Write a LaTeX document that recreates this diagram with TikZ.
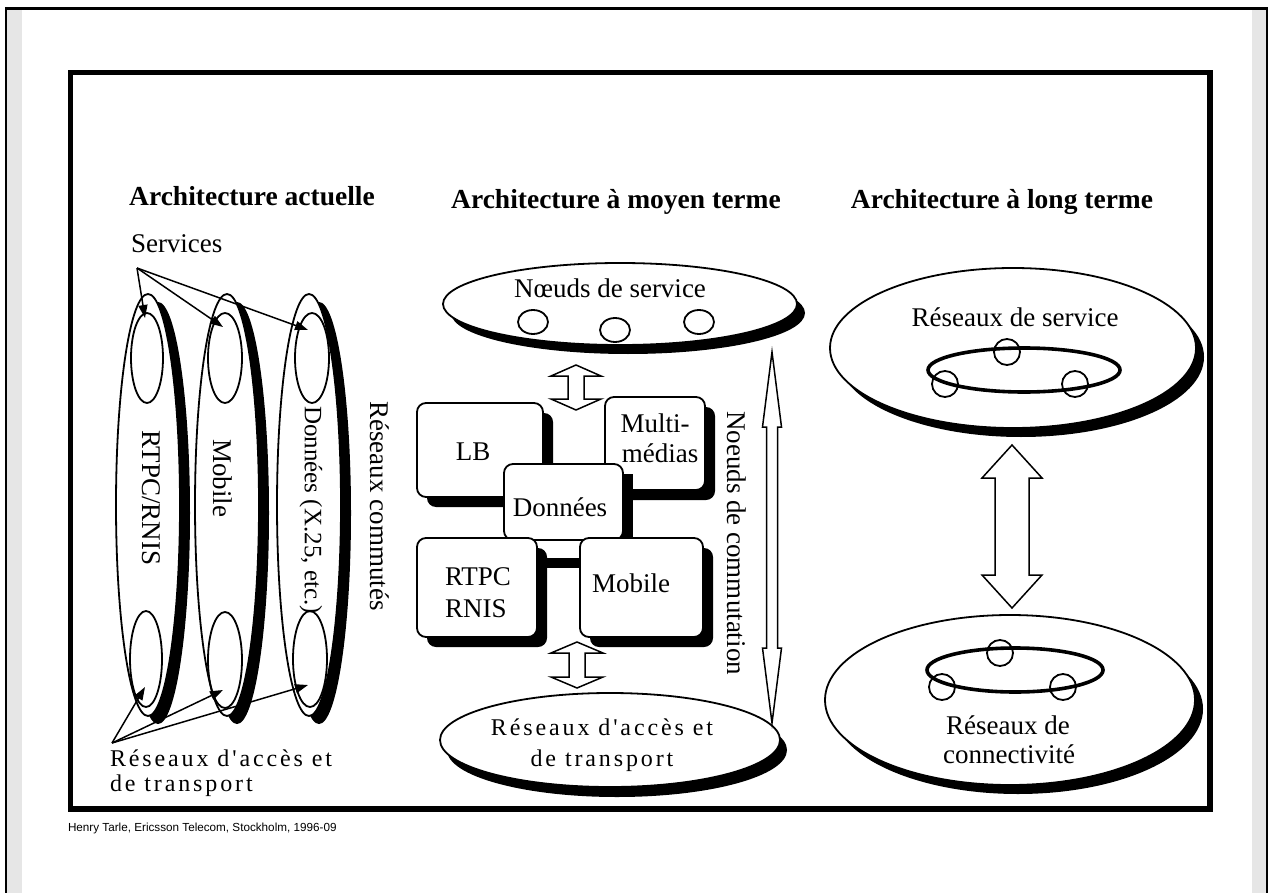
\documentclass[tikz,border=0pt]{standalone}
\usepackage{fontspec}
\setmainfont{Liberation Serif}
\newfontfamily\footfont{Liberation Sans}
\newfontfamily\spacedfont{Liberation Serif}[LetterSpace=12]
\usetikzlibrary{arrows.meta,shapes.geometric,shadows}
\definecolor{pagegrey}{RGB}{230,230,230}

% hollow double arrow: x, top tip y, bottom tip y, shaft half width, head half width, head length
\newcommand{\hollowdouble}[6]{%
  \draw[line width=1.5pt, fill=white, line join=miter]
    (#1,#2) -- ({#1+#5},{#2+#6}) -- ({#1+#4},{#2+#6}) -- ({#1+#4},{#3-#6})
    -- ({#1+#5},{#3-#6}) -- (#1,#3) -- ({#1-#5},{#3-#6}) -- ({#1-#4},{#3-#6})
    -- ({#1-#4},{#2+#6}) -- ({#1-#5},{#2+#6}) -- cycle;}

\begin{document}
\begin{tikzpicture}[x=1pt, y=-1pt,
  every node/.style={inner sep=0pt, outer sep=0pt},
  rm/.style={font=\fontsize{27}{31}\selectfont},
  ttl/.style={font=\bfseries\fontsize{27.5}{31}\selectfont, anchor=base},
  sp/.style={font=\spacedfont\fontsize{24}{27}\selectfont},
  outline/.style={draw=black, line width=1.8pt, fill=white},
  shad/.style 2 args={drop shadow={opacity=1, fill=black, shadow xshift=#1, shadow yshift=-#2}},
  bigell/.style={ellipse, outline},
  smallell/.style={ellipse, draw=black, line width=1.8pt},
  ring/.style={ellipse, draw=black, line width=3.6pt},
  dot/.style={circle, draw=black, line width=1.8pt, minimum size=26pt},
  box/.style={rectangle, rounded corners=9pt, outline},
  arr/.style={line width=1.5pt, -{Triangle[length=13pt,width=9pt]}},
]
\useasboundingbox (0,0) rectangle (1268,893);

% page edges
\fill[pagegrey] (7,10) rectangle (22,893);
\fill[pagegrey] (1252,10) rectangle (1266,893);
\draw[line width=2.5pt] (6,893) -- (6,8.5) -- (1268,8.5);
\draw[line width=2pt] (1267,8.5) -- (1267,893);

% main frame
\draw[line width=5.8pt] (70.5,72.5) rectangle (1210,809);

% titles
\node[ttl] (t1) at (252,206) {Architecture actuelle};
\node[ttl] (t2) at (616,209) {Architecture à moyen terme};
\node[ttl] (t3) at (1002,209) {Architecture à long terme};

% ---------- current architecture ----------
\node[rm, anchor=base west] (svc) at (131,252) {Services};
\coordinate (svcfrom) at (137,268);

\node[bigell, shad={10pt}{8pt}, minimum width=64pt, minimum height=422pt] (col1) at (148,505) {};
\node[bigell, shad={10pt}{8pt}, minimum width=64pt, minimum height=422pt] (col2) at (227,505) {};
\node[bigell, shad={10pt}{8pt}, minimum width=64pt, minimum height=422pt] (col3) at (309,505) {};

\node[smallell, minimum width=32pt, minimum height=90pt] (in1t) at (147,358) {};
\node[smallell, minimum width=32pt, minimum height=96pt] (in1b) at (146,659) {};
\node[smallell, minimum width=34pt, minimum height=90pt] (in2t) at (225,358) {};
\node[smallell, minimum width=34pt, minimum height=96pt] (in2b) at (225,660) {};
\node[smallell, minimum width=34pt, minimum height=90pt] (in3t) at (312,358) {};
\node[smallell, minimum width=34pt, minimum height=96pt] (in3b) at (310,659) {};

\node[rm, rotate=-90] (l1) at (151,498) {RTPC/RNIS};
\node[rm, rotate=-90] (l2) at (223,478) {Mobile};
\node[rm, rotate=-90, font=\fontsize{25}{29}\selectfont] (l3) at (311,510) {Données (X.25, etc.)};
\node[rm, rotate=-90] (l4) at (380,506) {Réseaux commutés};

\coordinate (s1) at (145,318);
\coordinate (s2) at (223,327);
\coordinate (s3) at (308,330);
\draw[arr] (svcfrom) -- (s1);
\draw[arr] (svcfrom) -- (s2);
\draw[arr] (svcfrom) -- (s3);

\coordinate (accfrom) at (112,743);
\coordinate (a1) at (145,687);
\coordinate (a2) at (223,690);
\coordinate (a3) at (308,685);
\draw[arr] (accfrom) -- (a1);
\draw[arr] (accfrom) -- (a2);
\draw[arr] (accfrom) -- (a3);

\node[sp, anchor=base west] (acc1) at (110,766) {Réseaux d'accès et};
\node[sp, anchor=base west] (acc2) at (110,791) {de transport};

% ---------- medium-term architecture ----------
\node[bigell, shad={8pt}{9pt}, minimum width=354pt, minimum height=82pt] (sn) at (620,304) {};
\node[rm, anchor=base] (snl) at (610,298) {Nœuds de service};
\node[smallell, minimum width=30pt, minimum height=24pt] (sn1) at (533,322) {};
\node[smallell, minimum width=30pt, minimum height=24pt] (sn2) at (615,330) {};
\node[smallell, minimum width=30pt, minimum height=24pt] (sn3) at (699,322) {};

\hollowdouble{576}{365}{410}{8}{25}{11}

\node[box, shad={10pt}{10pt}, minimum width=126pt, minimum height=94pt] (lb) at (480,450) {};
\node[rm, anchor=base] at (473,460) {LB};
\node[box, shad={10pt}{10pt}, minimum width=100pt, minimum height=93pt] (mm) at (655,443.5) {};
\node[rm, anchor=base] at (655,432) {Multi-};
\node[rm, anchor=base] at (660,462) {médias};

\fill (618,474) rectangle (633,540);
\node[box, minimum width=119pt, minimum height=76pt] (dn) at (563.5,502) {};
\node[rm, anchor=base] at (560,516) {Données};

\node[box, shad={10pt}{10pt}, minimum width=120pt, minimum height=99pt] (rt) at (477,587.5) {};
\node[rm, anchor=base west] at (445,585) {RTPC};
\node[rm, anchor=base west] at (445,617) {RNIS};
\node[box, shad={10pt}{10pt}, minimum width=123pt, minimum height=99pt] (mo) at (641.5,587.5) {};
\node[rm, anchor=base] at (631,592) {Mobile};
\draw[line width=10pt] ([yshift=24.5pt]rt.east) -- ([yshift=24.5pt]mo.west);

\hollowdouble{577}{642}{688}{8}{26}{11}

\node[bigell, shad={7pt}{10pt}, minimum width=340pt, minimum height=94pt] (at) at (610,740) {};
\node[sp, anchor=base] at (602,735) {Réseaux d'accès et};
\node[sp, anchor=base] at (602,766) {de transport};

\hollowdouble{772}{352}{723}{5.5}{9.5}{75}
\node[rm, rotate=-90] (nc) at (737,543) {Noeuds de commutation};

% ---------- long-term architecture ----------
\node[bigell, shad={8pt}{9pt}, minimum width=366pt, minimum height=160pt] (rs) at (1013,348) {};
\node[rm, anchor=base] at (1015,326) {Réseaux de service};
\node[ring, minimum width=192pt, minimum height=44pt] (ring1) at (1024,370) {};
\node[dot] (r11) at (1007,352) {};
\node[dot] (r12) at (945,384) {};
\node[dot] (r13) at (1075,384) {};

\hollowdouble{1012}{445}{608}{17}{30}{33}

\node[bigell, shad={8pt}{9pt}, minimum width=370pt, minimum height=170pt] (rc) at (1010,700) {};
\node[ring, minimum width=176pt, minimum height=44pt] (ring2) at (1015,670) {};
\node[dot] (r21) at (1000,653) {};
\node[dot] (r22) at (942,687) {};
\node[dot] (r23) at (1063,687) {};
\node[rm, anchor=base] at (1008,734) {Réseaux de};
\node[rm, anchor=base] at (1009,763) {connectivité};

% footer
\node[font=\footfont\fontsize{11.7}{14}\selectfont, anchor=base west] (foot) at (68,831)
  {Henry Tarle, Ericsson Telecom, Stockholm, 1996-09};
\end{tikzpicture}
\end{document}
